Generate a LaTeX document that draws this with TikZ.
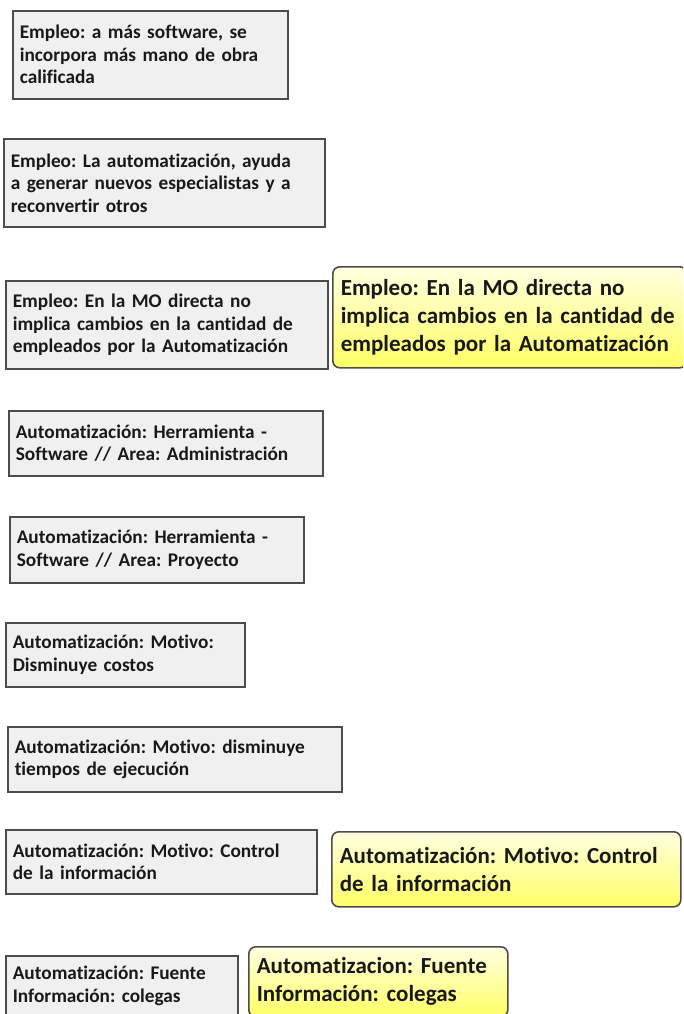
\documentclass[tikz,border=0pt]{standalone}
\usepackage{fontspec}
\setmainfont{Carlito}[Ligatures=NoCommon]
\frenchspacing

\begin{document}
\begin{tikzpicture}[x=1pt, y=-1pt,
  greybox/.style = {draw=black!70, line width=1.6pt, fill=black!6, anchor=north west, inner xsep=7pt, inner ysep=0pt, align=left, text=black!90, font=\bfseries\fontsize{19.3}{22.5}\selectfont},
  yellowbox/.style = {draw=black!70, line width=1.6pt, rounded corners=7pt, top color=yellow!12, bottom color=yellow!60, anchor=north west, inner xsep=8pt, inner ysep=0pt, align=left, text=black!90, font=\bfseries\fontsize{23}{28}\selectfont}]

\clip (0, 0) rectangle (683, 1014);

% Empleo
\node[greybox, text width=261pt, minimum height=88pt] (E1) at (12, 10) {Empleo: a más software, se\\incorpora más mano de obra\\calificada};
\node[greybox, text width=307pt, minimum height=88pt] (E2) at (3, 138) {Empleo: La automatización, ayuda\\a generar nuevos especialistas y a\\reconvertir otros};
\node[greybox, text width=308pt, minimum height=88pt] (E3) at (5, 280) {Empleo: En la MO directa no\\implica cambios en la cantidad de\\empleados por la Automatización};
\node[yellowbox, text width=338pt, minimum height=101pt] (E3c) at (332, 266) {Empleo: En la MO directa no\\implica cambios en la cantidad de\\empleados por la Automatización};

% Automatizacion
\node[greybox, text width=300pt, minimum height=65pt] (A1) at (8, 410) {Automatización: Herramienta -\\Software // Area: Administración};
\node[greybox, text width=280pt, minimum height=66pt] (A2) at (9, 516) {Automatización: Herramienta -\\Software // Area: Proyecto};
\node[greybox, text width=225pt, minimum height=64pt] (A3) at (5, 622) {Automatización: Motivo:\\Disminuye costos};
\node[greybox, text width=320pt, minimum height=65pt] (A4) at (7, 726) {Automatización: Motivo: disminuye\\tiempos de ejecución};
\node[greybox, text width=297pt, minimum height=64pt] (A5) at (5, 829) {Automatización: Motivo: Control\\de la información};
\node[yellowbox, text width=333pt, minimum height=75pt] (A5c) at (331, 831) {Automatización: Motivo: Control\\de la información};
\node[greybox, text width=218pt, minimum height=60pt] (A6) at (5, 955) {Automatización: Fuente\\Información: colegas};
\node[yellowbox, text width=243pt, minimum height=70pt] (A6c) at (248, 946) {Automatizacion: Fuente\\Información: colegas};

\end{tikzpicture}
\end{document}
